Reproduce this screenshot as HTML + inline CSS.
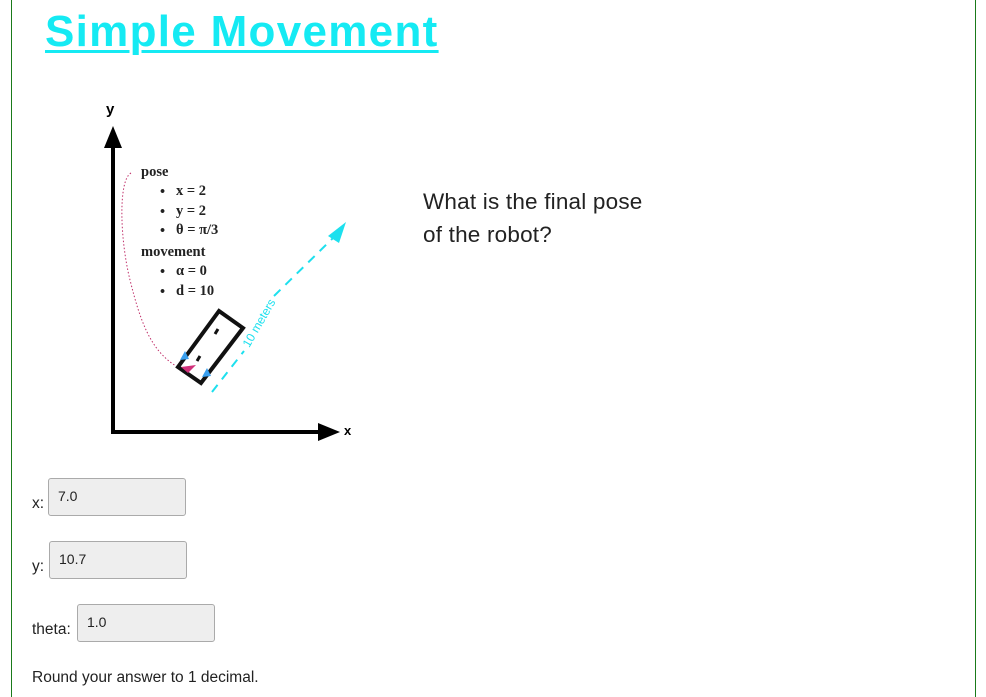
<!DOCTYPE html>
<html><head><meta charset="utf-8"><style>
body{margin:0;width:986px;height:697px;background:#fff;position:relative;overflow:hidden;font-family:"Liberation Sans",sans-serif;}
.frame{position:absolute;left:11px;top:0;width:963px;height:697px;border-left:1px solid #1a7a1a;border-right:1px solid #1a7a1a;}
h1{position:absolute;left:45px;top:7px;margin:0;font-size:44px;font-weight:bold;color:#15eaf3;text-decoration:underline;text-decoration-thickness:3px;text-underline-offset:4px;letter-spacing:1.3px;}
.q{position:absolute;left:423px;top:185px;font-size:22.5px;line-height:33px;color:#222;letter-spacing:0.2px;}
.lbl{position:absolute;font-size:15.5px;color:#222;}
.inp{position:absolute;height:38px;border:1px solid #aaa;border-radius:3px;background:#eeeeee;font-size:14px;color:#222;box-sizing:border-box;padding:9px 0 0 9px;}
svg text{font-family:"Liberation Serif",serif;}
</style></head><body>
<div class="frame"></div>
<h1>Simple Movement</h1>
<svg width="986" height="697" style="position:absolute;left:0;top:0">
<text x="106" y="114" font-weight="bold" font-size="15" style="font-family:'Liberation Sans'">y</text>
<line x1="113" y1="432" x2="113" y2="145" stroke="#000" stroke-width="4"/>
<polygon points="113,126 104,148 122,148" fill="#000"/>
<line x1="111" y1="432" x2="320" y2="432" stroke="#000" stroke-width="4"/>
<polygon points="340,432 318,423 318,441" fill="#000"/>
<text x="344" y="435" font-weight="bold" font-size="13" style="font-family:'Liberation Sans'">x</text>
<path d="M131,173 C118,180 120,240 130,280 C140,320 150,350 176,366" fill="none" stroke="#c0306a" stroke-width="1" stroke-dasharray="1.5,2"/>
<g font-size="14.5" font-weight="bold" fill="#222">
<text x="141" y="176">pose</text>
<text x="160" y="196">•</text><text x="176" y="195">x = 2</text>
<text x="160" y="216">•</text><text x="176" y="215">y = 2</text>
<text x="160" y="235">•</text><text x="176" y="234">θ = π/3</text>
<text x="141" y="256">movement</text>
<text x="160" y="276">•</text><text x="176" y="275">α = 0</text>
<text x="160" y="296">•</text><text x="176" y="295">d = 10</text>
</g>
<line x1="212" y1="392" x2="244" y2="351" stroke="#1de0ee" stroke-width="2" stroke-dasharray="9,7"/>
<line x1="274" y1="296" x2="333" y2="238" stroke="#1de0ee" stroke-width="2" stroke-dasharray="9,7"/>
<polygon points="346,222 328,236 339,243" fill="#1de0ee"/>
<text x="0" y="4" font-size="12" fill="#1de0ee" text-anchor="middle" style="font-family:'Liberation Sans'" transform="translate(259,323) rotate(-60)">10 meters</text>
<polygon points="219,311 243,328 201,383 178,367" fill="none" stroke="#111" stroke-width="4"/>
<line x1="218" y1="329" x2="215" y2="334" stroke="#111" stroke-width="3"/>
<line x1="200" y1="356" x2="197" y2="361" stroke="#111" stroke-width="3"/>
<polygon points="181,367 196,365 188,373" fill="#d0307a"/>
<polygon points="185,351 180,360 189,359" fill="#3aa0f0"/>
<polygon points="207,368 202,377 211,376" fill="#3aa0f0"/>
</svg>
<div class="q">What is the final pose<br>of the robot?</div>
<div class="lbl" style="left:32px;top:495px">x:</div>
<div class="inp" style="left:48px;top:478px;width:138px">7.0</div>
<div class="lbl" style="left:32px;top:558px">y:</div>
<div class="inp" style="left:49px;top:541px;width:138px">10.7</div>
<div class="lbl" style="left:32px;top:621px">theta:</div>
<div class="inp" style="left:77px;top:604px;width:138px">1.0</div>
<div class="lbl" style="left:32px;top:669px">Round your answer to 1 decimal.</div>
</body></html>
